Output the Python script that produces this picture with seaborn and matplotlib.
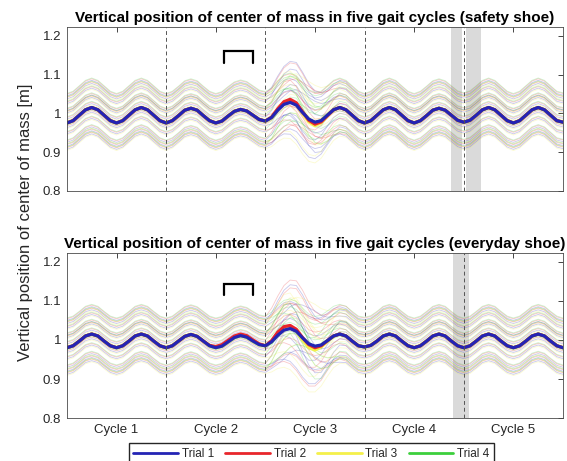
import numpy as np
import pandas as pd
import matplotlib
matplotlib.use("Agg")
import matplotlib.pyplot as plt
from matplotlib.lines import Line2D
import seaborn as sns

# ---------------------------------------------------------------- data
trials = ["Trial 1", "Trial 2", "Trial 3", "Trial 4"]
trial_colors = {"Trial 1": "#2424b4", "Trial 2": "#e8262b",
                "Trial 3": "#f4f04a", "Trial 4": "#3ccf3c"}
cycle_labels = ["Cycle 1", "Cycle 2", "Cycle 3", "Cycle 4", "Cycle 5"]
cycle_centers = [0.5, 1.5, 2.5, 3.5, 4.5]
cycle_bounds = [1, 2, 3, 4]
samples_per_cycle = 16
y_ticks = [0.8, 0.9, 1.0, 1.1, 1.2]
y_ticklabels = ["0.8", "0.9", "1", "1.1", "1.2"]

# mean COM height per cycle (m), 16 samples per gait cycle -- safety shoe
safety_c1 = [0.975, 0.981, 0.995, 1.009, 1.015, 1.009, 0.995, 0.981,
             0.975, 0.981, 0.995, 1.009, 1.015, 1.009, 0.995, 0.981]
safety_c2 = [0.975, 0.981, 0.994, 1.008, 1.013, 1.008, 0.994, 0.981,
             0.975, 0.980, 0.993, 1.005, 1.010, 1.006, 0.995, 0.984]
safety_c4 = [0.975, 0.981, 0.995, 1.009, 1.015, 1.009, 0.995, 0.981,
             0.975, 0.981, 0.994, 1.008, 1.013, 1.008, 0.995, 0.982]
safety_c5 = [0.977, 0.982, 0.995, 1.009, 1.015, 1.009, 0.995, 0.981,
             0.975, 0.981, 0.995, 1.009, 1.015, 1.009, 0.995, 0.981]
safety_end = 0.977
safety_c3 = {
    "Trial 1": [0.980, 0.989, 1.008, 1.023, 1.028, 1.021, 1.002, 0.985,
                0.977, 0.981, 0.995, 1.009, 1.015, 1.009, 0.995, 0.981],
    "Trial 2": [0.980, 0.990, 1.012, 1.030, 1.036, 1.027, 1.004, 0.982,
                0.972, 0.978, 0.994, 1.009, 1.015, 1.009, 0.995, 0.981],
    "Trial 3": [0.980, 0.989, 1.010, 1.027, 1.033, 1.024, 1.000, 0.978,
                0.968, 0.976, 0.993, 1.008, 1.015, 1.009, 0.995, 0.981],
    "Trial 4": [0.980, 0.989, 1.009, 1.026, 1.032, 1.023, 1.002, 0.984,
                0.976, 0.981, 0.995, 1.009, 1.015, 1.009, 0.995, 0.981],
}

# mean COM height per cycle (m) -- everyday shoe
everyday_c1 = [0.980, 0.985, 0.997, 1.010, 1.015, 1.010, 0.997, 0.985,
               0.980, 0.985, 0.997, 1.010, 1.015, 1.010, 0.997, 0.985]
everyday_c2 = [0.980, 0.985, 0.997, 1.009, 1.014, 1.009, 0.997, 0.985,
               0.980, 0.984, 0.995, 1.006, 1.011, 1.007, 0.997, 0.988]
everyday_c2_trial2 = [0.980, 0.985, 0.997, 1.009, 1.014, 1.009, 0.997, 0.986,
                      0.983, 0.988, 0.999, 1.010, 1.015, 1.011, 1.000, 0.990]
everyday_c4 = [0.982, 0.986, 0.997, 1.010, 1.015, 1.010, 0.997, 0.985,
               0.980, 0.985, 0.997, 1.010, 1.015, 1.010, 0.997, 0.985]
everyday_c5 = [0.980, 0.985, 0.997, 1.010, 1.015, 1.010, 0.997, 0.985,
               0.980, 0.985, 0.997, 1.010, 1.015, 1.010, 0.997, 0.985]
everyday_end = 0.980
everyday_c3 = {
    "Trial 1": [0.985, 0.995, 1.012, 1.025, 1.029, 1.022, 1.005, 0.990,
                0.984, 0.987, 0.998, 1.010, 1.015, 1.010, 0.997, 0.985],
    "Trial 2": [0.985, 0.998, 1.020, 1.034, 1.037, 1.027, 1.006, 0.988,
                0.980, 0.985, 0.998, 1.010, 1.015, 1.010, 0.997, 0.985],
    "Trial 3": [0.985, 0.996, 1.015, 1.029, 1.032, 1.022, 1.000, 0.981,
                0.974, 0.982, 0.996, 1.010, 1.015, 1.010, 0.997, 0.985],
    "Trial 4": [0.985, 0.995, 1.013, 1.027, 1.031, 1.023, 1.004, 0.988,
                0.982, 0.986, 0.998, 1.010, 1.015, 1.010, 0.997, 0.985],
}

# individual participants: vertical offset of each participant's curve (m)
subject_offsets = [0.070, 0.062, 0.050, 0.032, 0.026, 0.010,
                   -0.012, -0.028, -0.050, -0.060, -0.068]
trial_spread = [0.000, 0.004, -0.003, 0.006]

# deviations of single trials during the perturbed third cycle (17 samples)
safety_dev = {
    "U": [0, 0.008, 0.018, 0.028, 0.036, 0.040, 0.034, 0.022, 0.010,
          0.002, -0.004, -0.004, 0, 0.002, 0, 0, 0],
    "D": [0, -0.004, -0.010, -0.016, -0.022, -0.030, -0.036, -0.038, -0.034,
          -0.026, -0.016, -0.008, -0.003, 0, 0, 0, 0],
    "L": [0, 0, -0.004, -0.004, 0.004, 0.014, 0.024, 0.030, 0.028,
          0.018, 0.008, 0, -0.003, 0, 0, 0, 0],
    "S": [0, 0.006, 0.014, 0.022, 0.022, 0.012, -0.004, -0.018, -0.028,
          -0.030, -0.022, -0.010, 0, 0.002, 0, 0, 0],
    "n": [0] * 17,
}
everyday_dev = {
    "U": [0, 0.012, 0.026, 0.040, 0.050, 0.055, 0.048, 0.032, 0.014,
          0.002, -0.006, -0.006, 0, 0.002, 0, 0, 0],
    "D": [0, -0.006, -0.014, -0.024, -0.034, -0.044, -0.050, -0.052, -0.046,
          -0.034, -0.020, -0.010, -0.004, 0, 0, 0, 0],
    "L": [0, 0, -0.006, -0.006, 0.006, 0.020, 0.034, 0.042, 0.040,
          0.026, 0.010, 0, -0.004, 0, 0, 0, 0],
    "S": [0, 0.008, 0.020, 0.032, 0.032, 0.016, -0.006, -0.026, -0.040,
          -0.042, -0.030, -0.014, 0, 0.003, 0, 0, 0],
    "n": [0] * 17,
}
safety_patterns = ["UnLn", "nUSn", "ULnD", "nSUn", "LnDU", "UDnS",
                   "DnUL", "nDSU", "SUDn", "DnUL", "nLDU"]
everyday_patterns = ["nULn", "UnSD", "LUnn", "SnUD", "nLUS", "DUSn",
                     "UDLn", "SnDU", "DULS", "nDUL", "LnDU"]

# shaded stance windows and marker brackets (axis units)
safety_spans = [(3.871, 3.982), (4.027, 4.173)]
everyday_spans = [(3.890, 4.050)]
safety_bracket = ([1.586, 1.586, 1.872, 1.872], [1.130, 1.160, 1.160, 1.130])
everyday_bracket = ([1.586, 1.586, 1.872, 1.872], [1.115, 1.144, 1.144, 1.115])

titles = ["Vertical position of center of mass in five gait cycles (safety shoe)",
          "Vertical position of center of mass in five gait cycles (everyday shoe)"]


# ---------------------------------------------------------------- frames
phase = np.arange(5 * samples_per_cycle + 1) / samples_per_cycle


def mean_curves(c1, c2, c3, c4, c5, end, c2_override=None):
    rows = []
    for t in trials:
        second = c2_override.get(t, c2) if c2_override else c2
        values = c1 + second + c3[t] + c4 + c5 + [end]
        rows.append(pd.DataFrame({"phase": phase, "com": values, "trial": t}))
    return pd.concat(rows, ignore_index=True)


def single_curves(means, deviations, patterns):
    base = means.loc[means.trial == "Trial 1", "com"].to_numpy()
    start = 2 * samples_per_cycle
    rows = []
    for s, (off, pat) in enumerate(zip(subject_offsets, patterns)):
        for k, t in enumerate(trials):
            values = base + off + trial_spread[k]
            values[start:start + 17] += np.array(deviations[pat[k]])
            rows.append(pd.DataFrame({"phase": phase, "com": values,
                                      "trial": t, "line": f"{s}-{k}"}))
    return pd.concat(rows, ignore_index=True)


safety_mean = mean_curves(safety_c1, safety_c2, safety_c3, safety_c4,
                          safety_c5, safety_end)
everyday_mean = mean_curves(everyday_c1, everyday_c2, everyday_c3, everyday_c4,
                            everyday_c5, everyday_end,
                            c2_override={"Trial 2": everyday_c2_trial2})
safety_single = single_curves(safety_mean, safety_dev, safety_patterns)
everyday_single = single_curves(everyday_mean, everyday_dev, everyday_patterns)

# ---------------------------------------------------------------- figure
sns.set_style("white")
plt.rcParams["font.family"] = ["Liberation Sans", "DejaVu Sans"]
ink = "#262626"

fig = plt.figure(figsize=(5.67, 4.61), dpi=100)
ax_top = fig.add_axes([0.118, 0.586, 0.875, 0.355])
ax_bot = fig.add_axes([0.118, 0.093, 0.875, 0.358])

panels = [
    (ax_top, safety_single, safety_mean, safety_spans, safety_bracket, titles[0]),
    (ax_bot, everyday_single, everyday_mean, everyday_spans, everyday_bracket, titles[1]),
]

for ax, single, means, spans, bracket, title in panels:
    for lo, hi in spans:
        ax.axvspan(lo, hi, color="#dadada", lw=0, zorder=0)
    sns.lineplot(data=single, x="phase", y="com", hue="trial", units="line",
                 estimator=None, palette=trial_colors, alpha=0.25,
                 linewidth=0.6, legend=False, sort=False, ax=ax)
    sns.lineplot(data=means, x="phase", y="com", hue="trial",
                 hue_order=trials[::-1], estimator=None, palette=trial_colors,
                 linewidth=2.3, legend=False, sort=False, ax=ax)
    for b in cycle_bounds:
        ax.axvline(b, color="#555555", lw=0.7, ls=(0, (4, 3)), zorder=3)
    ax.plot(bracket[0], bracket[1], color="black", lw=1.6,
            solid_joinstyle="miter", zorder=4)

    ax.set_xlim(0, 5)
    ax.set_ylim(0.8, 1.222)
    ax.set_xticks(cycle_centers)
    ax.set_yticks(y_ticks)
    ax.set_yticklabels(y_ticklabels)
    ax.set_xlabel("")
    ax.set_ylabel("")
    ax.tick_params(direction="in", top=True, right=True, length=3.5,
                   width=0.6, labelsize=9.5, colors=ink, pad=4)
    for sp in ax.spines.values():
        sp.set_color("#4a4a4a")
        sp.set_linewidth(0.6)
    ax.set_title(title, fontsize=11, fontweight="bold", color="black", pad=4)

ax_top.set_xticklabels([])
ax_bot.set_xticklabels(cycle_labels)

fig.text(0.045, 0.518, "Vertical position of center of mass [m]",
         rotation=90, ha="center", va="center", fontsize=12, color=ink)

handles = [Line2D([], [], color=trial_colors[t], lw=2.0) for t in trials]
fig.legend(handles, trials, loc="upper center", bbox_to_anchor=(0.549, 0.0384),
           borderaxespad=0, ncol=4, frameon=True, fancybox=False,
           edgecolor=ink, fontsize=8.5, handlelength=3.8, handletextpad=0.3,
           columnspacing=0.95, borderpad=0.38, framealpha=1)

fig.savefig("out.png", dpi=100)
